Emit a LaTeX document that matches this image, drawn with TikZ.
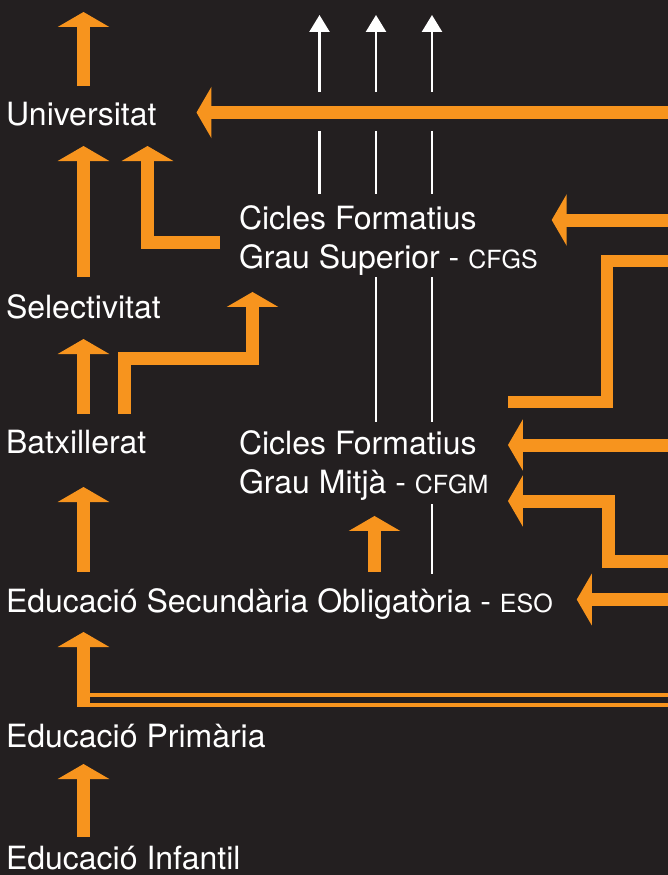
\documentclass[tikz,border=0pt]{standalone}
\usepackage{fontspec}
\setmainfont{TeX Gyre Heros}
\usetikzlibrary{arrows.meta,positioning,calc}
\definecolor{board}{HTML}{231F20}
\definecolor{route}{HTML}{F7941E}
\newcommand{\abbr}[1]{{\fontsize{25}{25}\selectfont #1}}

\begin{document}
\begin{tikzpicture}[x=1pt, y=-1pt,
  level/.style={anchor=base west, inner sep=0pt, outer sep=0pt, text=white, font=\fontsize{32}{39}\selectfont, text height=23pt, text depth=0pt},
  branch/.style={anchor=base west, inner sep=0pt, outer sep=0pt, text=white, font=\fontsize{32}{39}\selectfont, align=left},
  flow/.style={draw=route, line width=13pt, -{Triangle[width=51pt,length=15pt]}},
  link/.style={draw=route, line width=12pt},
  thread/.style={draw=route, line width=4pt},
  exit/.style={draw=white, line width=2.5pt},
  exitarrow/.style={exit, -{Triangle[width=20pt,length=17pt]}}]

\fill[board] (0,0) rectangle (668,875);
\useasboundingbox (0,0) rectangle (668,875);

% stages
\node[level] (univ) at (6,125) {Universitat};
\node[level] (sel) at (6,318) {Selectivitat};
\node[level] (bat) at (6,453) {Batxillerat};
\node[level] (eso) at (6,612) {Educació Secundària Obligatòria - \abbr{ESO}};
\node[level] (prim) at (6,747) {Educació Primària};
\node[level] (inf) at (6,869) {Educació Infantil};
\node[branch] (cfgs) at (239,268) {Cicles Formatius\\Grau Superior - \abbr{CFGS}};
\node[branch] (cfgm) at (239,493) {Cicles Formatius\\Grau Mitjà - \abbr{CFGM}};

% columns and entries from the right
\coordinate (c1) at (83.5,0);
\coordinate (c2) at (147.5,0);
\coordinate (c3) at (124.5,0);
\coordinate (c4) at (252.5,0);
\coordinate (c5) at (374.5,0);
\coordinate (top) at (83.5,12);
\coordinate (in1) at (668,112.5);
\coordinate (in2) at (668,220);
\coordinate (in3) at (668,261);
\coordinate (in4) at (668,445);
\coordinate (in5) at (668,561);
\coordinate (in6) at (668,599.5);
\coordinate (in7) at (668,695);
\coordinate (in8) at (668,705);
\coordinate (bend3) at (607,402);
\coordinate (end3) at (508,402);
\coordinate (bend5) at (608.5,501);
\coordinate (turn) at (252.5,358.5);

% white exits
\foreach \x in {319.5,376,432} {\draw[exitarrow] (\x,92) -- (\x,15); \draw[exit] (\x,131) -- (\x,194);}
\foreach \x in {376,432} \draw[exit] (\x,277) -- (\x,422);
\draw[exit] (432,504) -- (432,574);

% main column
\draw[flow, shorten <=16pt] (c1 |- univ.north) -- (top);
\draw[flow, shorten <=18pt, shorten >=21pt] (c1 |- sel.north) -- (c1 |- univ.south);
\draw[flow, shorten <=16pt, shorten >=21pt] (c1 |- bat.north) -- (c1 |- sel.south);
\draw[flow, shorten <=17pt, shorten >=34pt] (c1 |- eso.north) -- (c1 |- bat.south);
\draw[flow, shorten <=17pt, shorten >=20pt] (c1 |- prim.north) -- (c1 |- eso.south);
\draw[flow, shorten <=9pt, shorten >=17pt] (c1 |- inf.north) -- (c1 |- prim.south);

% side routes
\draw[flow, shorten <=19pt, shorten >=21pt] ([yshift=-2pt]cfgs.west) -| (c2 |- univ.south);
\draw[flow, shorten <=16pt, shorten >=17pt] (c3 |- bat.north) |- (turn) -- (turn |- cfgs.south);
\draw[flow, shorten <=17pt, shorten >=16pt] (c5 |- eso.north) -- (c5 |- cfgm.south);

% entries from the right
\draw[flow, shorten >=40pt] (in1) -- (in1 -| univ.east);
\draw[flow, shorten >=14pt] (in2) -- (in2 -| cfgs.east);
\draw[link, line join=miter] (in3) -| (bend3) -- (end3);
\draw[flow, shorten >=19.5pt] (in4) -- (in4 -| cfgm.east);
\draw[flow, shorten >=19.5pt] (in5) -| (bend5) -- (bend5 -| cfgm.east);
\draw[flow, shorten >=24pt] (in6) -- (in6 -| eso.east);
\draw[thread] (in7) -- ([xshift=6.5pt]c1 |- in7);
\draw[thread] (in8) -- ([xshift=6.5pt]c1 |- in8);
\end{tikzpicture}
\end{document}
